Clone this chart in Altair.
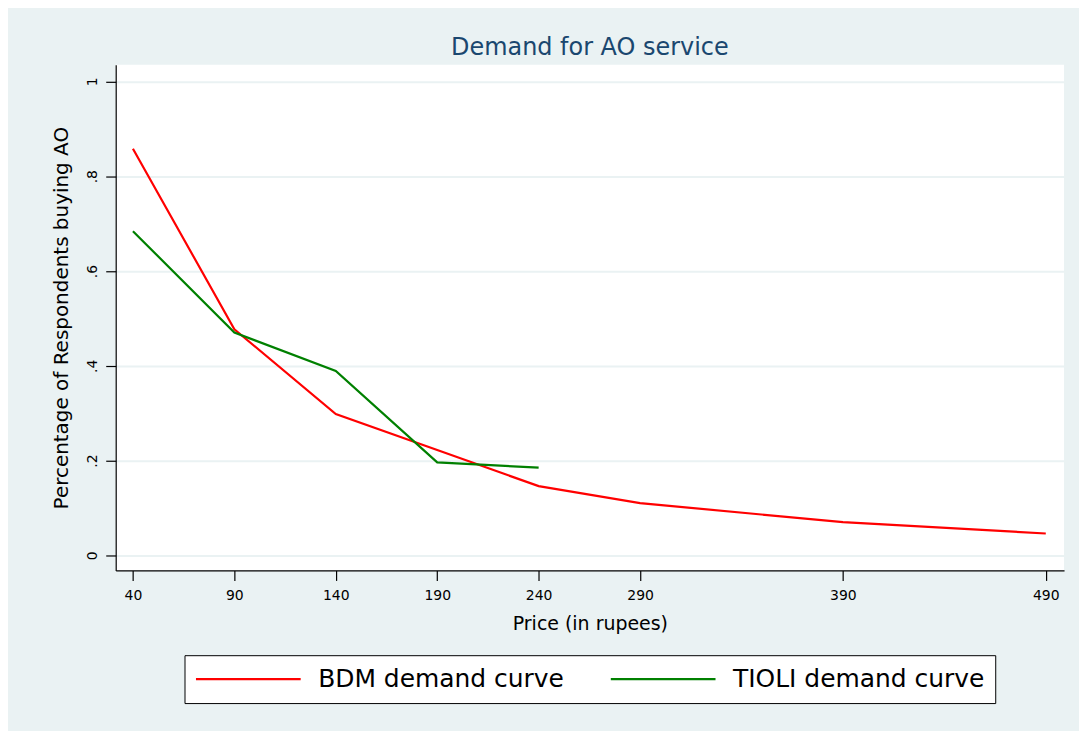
import altair as alt
import pandas as pd

# --- data ---
bdm_price = [40, 90, 140, 190, 240, 290, 390, 490]
bdm_share = [0.858, 0.477, 0.298, 0.222, 0.146, 0.110, 0.070, 0.046]

tioli_price = [40, 90, 140, 190, 240]
tioli_share = [0.684, 0.470, 0.389, 0.196, 0.185]

series_names = ["BDM demand curve", "TIOLI demand curve"]
series_colors = ["#FF0000", "#008000"]

x_ticks = [40, 90, 140, 190, 240, 290, 390, 490]
y_ticks = [0, 0.2, 0.4, 0.6, 0.8, 1.0]

rows = []
for p, s in zip(bdm_price, bdm_share):
    rows.append({"price": p, "share": s, "series": series_names[0], "order": 0})
for p, s in zip(tioli_price, tioli_share):
    rows.append({"price": p, "share": s, "series": series_names[1], "order": 1})
df = pd.DataFrame(rows)

FONT = "DejaVu Sans"
BG = "#EAF2F3"

chart = (
    alt.Chart(df)
    .mark_line(strokeWidth=2.2)
    .encode(
        x=alt.X(
            "price:Q",
            scale=alt.Scale(domain=[31.5, 499], nice=False, zero=False),
            axis=alt.Axis(
                title="Price (in rupees)",
                values=x_ticks,
                grid=False,
                tickSize=10,
                labelPadding=8,
                titlePadding=12,
            ),
        ),
        y=alt.Y(
            "share:Q",
            scale=alt.Scale(domain=[-0.032, 1.035], nice=False, zero=False),
            axis=alt.Axis(
                title="Percentage of Respondents buying AO",
                values=y_ticks,
                grid=True,
                tickSize=10,
                labelAngle=270,
                labelAlign="center",
                labelBaseline="bottom",
                labelPadding=6,
                titlePadding=14,
                labelExpr="datum.value == 0 ? '0' : datum.value == 1 ? '1' : substring(format(datum.value, '.1f'), 1)",
            ),
        ),
        color=alt.Color(
            "series:N",
            scale=alt.Scale(domain=series_names, range=series_colors),
            legend=alt.Legend(
                title=None,
                orient="none",
                legendX=69,
                legendY=592,
                direction="horizontal",
                fillColor="white",
                strokeColor="black",
                padding=10,
                symbolType="stroke",
                symbolSize=11025,
                symbolStrokeWidth=2.2,
                clipHeight=28,
                labelFontSize=25,
                labelFont=FONT,
                labelColor="black",
                labelOffset=16,
                columnPadding=45,
                labelLimit=400,
            ),
        ),
        order="order:Q",
    )
    .properties(
        width=951,
        height=507,
        title=alt.TitleParams(
            "Demand for AO service",
            font=FONT,
            fontSize=24,
            fontWeight="normal",
            color="#1A476F",
            anchor="middle",
            offset=5,
        ),
        autosize=alt.AutoSizeParams(type="none"),
        padding={"left": 108, "top": 56, "right": 15, "bottom": 160},
        background=BG,
    )
    .configure_view(fill="white", stroke=None)
    .configure_axis(
        labelFont=FONT,
        titleFont=FONT,
        labelFontSize=14,
        titleFontSize=19,
        titleFontWeight="normal",
        labelColor="black",
        titleColor="black",
        domainColor="black",
        domainWidth=1.2,
        tickColor="black",
        tickWidth=1.2,
        gridColor=BG,
        gridWidth=2,
        gridOpacity=1,
    )
    .configure_axisY(titleFontSize=20)
)

chart.save("out.html", embed_options={"renderer": "svg", "actions": False})
